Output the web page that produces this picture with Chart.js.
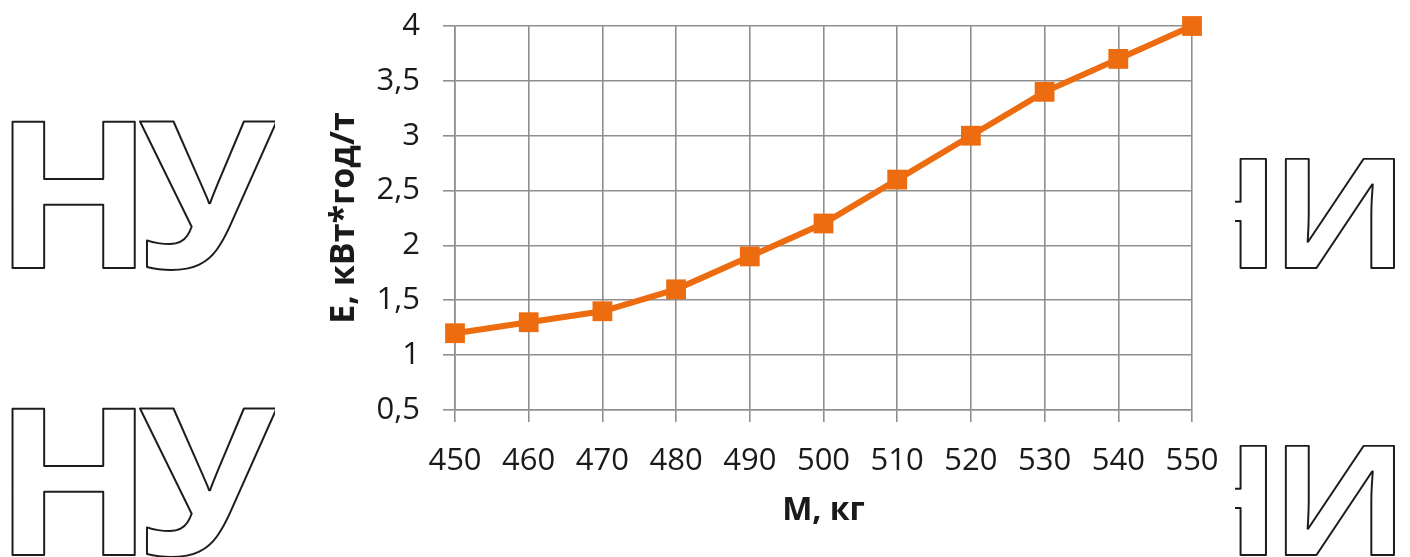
<!DOCTYPE html>
<html>
<head>
<meta charset="utf-8">
<script src="https://cdn.jsdelivr.net/npm/chart.js@4.4.1/dist/chart.umd.min.js"></script>
<style>
  html, body { margin: 0; padding: 0; background: #ffffff; }
  #wrap { width: 1410px; height: 557px; position: relative; }
</style>
</head>
<body>
<div id="wrap"><canvas id="chart"></canvas></div>
<script>
// Mass of the load, kg
const masses = ['450', '460', '470', '480', '490', '500', '510', '520', '530', '540', '550'];
// Specific energy consumption, kWh per tonne
const energy = [1.2, 1.3, 1.4, 1.6, 1.9, 2.2, 2.6, 3.0, 3.4, 3.7, 4.0];
// Value axis labels (decimal comma)
const energyTicks = ['0,5', '1', '1,5', '2', '2,5', '3', '3,5', '4'];

const xTitle = 'М, кг';
const yTitle = 'Е, кВт*год/т';

// Outlined letters printed on the page around the chart
const sideLettersLeft = ['Н', 'У'];
const sideLettersRight = ['Н', 'И'];

const LINE_ORANGE = '#EE6C10';
const GRID_GREY = '#8f8f8f';
const INK = '#1a1a1a';

Chart.defaults.font.family = '"Open Sans", "DejaVu Sans", sans-serif';
Chart.defaults.color = INK;

function sizedGlyph(ctx, ch, capH) {
  ctx.font = 'bold 100px "Open Sans"';
  const ref = ctx.measureText('Н');
  const size = capH / (ref.actualBoundingBoxAscent / 100);
  ctx.font = 'bold ' + size + 'px "Open Sans"';
  return ctx.measureText(ch);
}

function inkWidth(ctx, ch, capH) {
  const m = sizedGlyph(ctx, ch, capH);
  return m.actualBoundingBoxLeft + m.actualBoundingBoxRight;
}

// Stroke one glyph with its ink box anchored at x (left or right edge) on a baseline
function strokeGlyph(ctx, ch, x, anchorRight, baseline, capH, sx) {
  const m = sizedGlyph(ctx, ch, capH);
  ctx.save();
  ctx.translate(x, baseline);
  ctx.scale(sx, 1);
  const ox = anchorRight ? -m.actualBoundingBoxRight : m.actualBoundingBoxLeft;
  ctx.lineWidth = 2 / sx;
  ctx.lineJoin = 'round';
  ctx.strokeStyle = '#1c1c1c';
  ctx.textBaseline = 'alphabetic';
  ctx.textAlign = 'left';
  ctx.strokeText(ch, ox, 0);
  ctx.restore();
}

const sideLetters = {
  id: 'sideLetters',
  beforeDraw(chart) {
    const ctx = chart.ctx;
    ctx.save();
    ctx.beginPath();
    ctx.rect(0, 0, 275, chart.height);
    ctx.rect(1235, 0, chart.width - 1235, chart.height);
    ctx.clip();

    const capL = 148;
    const sxL = 123 / inkWidth(ctx, sideLettersLeft[0], capL);
    const capR = 110;
    const sxR = 109 / inkWidth(ctx, sideLettersRight[1], capR);

    [268, 555].forEach(base => {
      strokeGlyph(ctx, sideLettersLeft[0], 12, false, base, capL, sxL);
      strokeGlyph(ctx, sideLettersLeft[1], 140, false, base, capL, sxL);
      strokeGlyph(ctx, sideLettersRight[0], 1267, true, base, capR, sxR);
      strokeGlyph(ctx, sideLettersRight[1], 1285, false, base, capR, sxR);
    });
    ctx.restore();
  }
};

new Chart(document.getElementById('chart'), {
  type: 'line',
  data: {
    labels: masses,
    datasets: [{
      data: energy,
      borderColor: LINE_ORANGE,
      backgroundColor: LINE_ORANGE,
      borderWidth: 6,
      tension: 0,
      pointStyle: 'rect',
      pointRadius: 14,
      pointHoverRadius: 14,
      pointBorderWidth: 0,
      pointBackgroundColor: LINE_ORANGE,
      clip: false
    }]
  },
  options: {
    responsive: true,
    maintainAspectRatio: false,
    animation: false,
    events: [],
    layout: { autoPadding: false, padding: { left: 322, right: 218, top: 26, bottom: 23 } },
    plugins: {
      legend: { display: false },
      tooltip: { enabled: false },
      title: { display: false }
    },
    scales: {
      x: {
        type: 'category',
        offset: false,
        grid: { color: GRID_GREY, lineWidth: 1.6, tickLength: 12, drawTicks: true },
        border: { color: GRID_GREY, width: 1.6 },
        ticks: { font: { size: 31 }, padding: 21, maxRotation: 0, autoSkip: false, color: INK },
        title: { display: true, text: xTitle, font: { size: 32, weight: 'bold' }, color: INK, padding: { top: 4, bottom: 4 } },
        afterFit(scale) { scale.height = 124; }
      },
      y: {
        min: 0.5,
        max: 4,
        ticks: {
          stepSize: 0.5,
          // single-line labels; a tight line box keeps the plot top from being pushed down
          font: { size: 31, lineHeight: 0.15 },
          padding: 23,
          color: INK,
          callback: (value, index) => energyTicks[index]
        },
        grid: { color: GRID_GREY, lineWidth: 1.6, tickLength: 12, drawTicks: true },
        border: { color: GRID_GREY, width: 1.6 },
        title: { display: true, text: yTitle, font: { size: 34, weight: 'bold' }, color: INK, padding: { top: 2, bottom: 4 } },
        afterFit(scale) { scale.width = 133; }
      }
    }
  },
  plugins: [sideLetters]
});
</script>
</body>
</html>
